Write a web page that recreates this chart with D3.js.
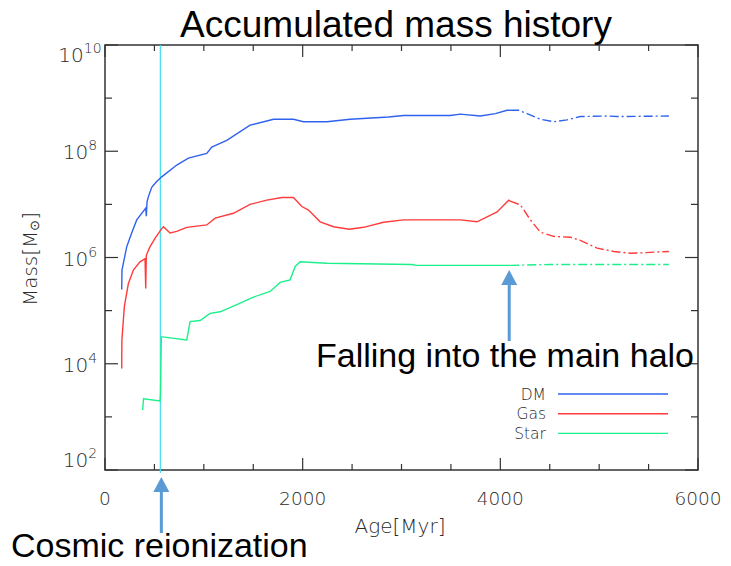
<!DOCTYPE html>
<html>
<head>
<meta charset="utf-8">
<script src="https://cdn.jsdelivr.net/npm/d3@7"></script>
<style>
  body { margin: 0; background: #fff; }
  svg { display: block; }
</style>
</head>
<body>
<div id="chart"></div>
<script>
// Accumulated mass history of a satellite: DM, gas and stars vs age

// [age in Myr, mass in Msun]
const dm = [
  [169, 2.5e5], [172, 5.8e5], [220, 1.6e6], [270, 2.9e6], [321, 5.1e6],
  [412, 8.5e6], [418, 6.0e6], [425, 1.1e7], [439, 1.4e7], [473, 2.1e7],
  [523, 2.7e7], [574, 3.3e7], [726, 5.5e7], [844, 7.4e7], [1030, 9.1e7],
  [1080, 1.2e8], [1232, 1.6e8], [1468, 3.1e8], [1705, 4.0e8], [1907, 4.0e8],
  [2008, 3.6e8], [2245, 3.6e8], [2481, 4.0e8], [2869, 4.4e8], [3021, 4.7e8],
  [3494, 4.7e8], [3595, 5.0e8], [3797, 4.6e8], [3950, 5.1e8], [4068, 5.9e8],
  [4100, 5.9e8], [4186, 5.9e8], [4270, 5.1e8], [4405, 4.0e8], [4540, 3.6e8],
  [4675, 3.9e8], [4810, 4.5e8], [5081, 4.6e8], [5182, 4.5e8], [5705, 4.6e8]
];
const gas = [
  [169, 8.1e3], [171, 2.8e4], [196, 1.2e5], [236, 3.2e5], [287, 5.8e5],
  [354, 8.3e5], [405, 9.5e5], [412, 2.6e5], [418, 1.1e6], [456, 1.6e6],
  [506, 2.3e6], [574, 3.5e6], [591, 3.8e6], [658, 2.9e6], [726, 3.1e6],
  [827, 3.7e6], [1030, 4.1e6], [1114, 5.5e6], [1299, 6.8e6], [1468, 1.0e7],
  [1637, 1.2e7], [1789, 1.35e7], [1907, 1.35e7], [1992, 9.1e6], [2059, 7.8e6],
  [2177, 4.7e6], [2312, 3.8e6], [2470, 3.4e6], [2616, 3.7e6], [2818, 4.6e6],
  [3021, 5.1e6], [3595, 5.1e6], [3764, 4.7e6], [3967, 7.2e6], [4085, 1.2e7],
  [4100, 1.15e7], [4203, 9.8e6], [4304, 5.1e6], [4405, 3.0e6], [4540, 2.5e6],
  [4709, 2.4e6], [4810, 2.1e6], [4979, 1.5e6], [5148, 1.3e6], [5317, 1.2e6],
  [5519, 1.25e6], [5705, 1.3e6]
];
const star = [
  [381, 1.35e3], [390, 2.2e3], [557, 2.0e3], [562, 2.8e3], [566, 1.0e4],
  [570, 3.2e4], [583, 3.2e4], [827, 2.8e4], [861, 6.2e4], [962, 6.5e4],
  [1063, 8.9e4], [1165, 9.5e4], [1334, 1.3e5], [1502, 1.8e5], [1671, 2.3e5],
  [1772, 3.4e5], [1873, 3.8e5], [1924, 6.8e5], [1975, 8.3e5], [2245, 7.8e5],
  [3106, 7.4e5], [3150, 7.1e5], [4068, 7.1e5], [4100, 7.1e5], [4507, 7.4e5],
  [5705, 7.4e5]
];

const seriesNames = ["DM", "Gas", "Star"];
const seriesColors = ["#2f62ee", "#ff3b3b", "#1cf08a"];
const reionAge = 560;     // cosmic reionization
const infallAge = 4100;   // falling into the main halo (dash-dot after)

const xMajor = [0, 2000, 4000, 6000];
const yMajorExp = [2, 4, 6, 8, 10];

const W = 731, H = 566;
const pLeft = 105, pRight = 698, pTop = 45, pBottom = 470;

const svg = d3.select("#chart").append("svg")
  .attr("width", W).attr("height", H);

const x = d3.scaleLinear().domain([0, 6000]).range([pLeft, pRight]);
const y = d3.scaleLog().domain([1e2, 1e10]).range([pBottom, pTop]);

const axisCol = "#333";
const txtCol = "#2a2a2a";
const tickFont = "'DejaVu Sans', sans-serif";
const bigFont = "'Liberation Sans', Arial, sans-serif";

// frame
svg.append("rect")
  .attr("x", pLeft).attr("y", pTop)
  .attr("width", pRight - pLeft).attr("height", pBottom - pTop)
  .attr("fill", "none").attr("stroke", axisCol).attr("stroke-width", 1.5);

// ticks on all four sides
const xTicks = d3.range(0, 6001, 500);
const g = svg.append("g").attr("stroke", axisCol).attr("stroke-width", 1.2);
xTicks.forEach(t => {
  const len = xMajor.includes(t) ? 12 : 6;
  g.append("line").attr("x1", x(t)).attr("x2", x(t)).attr("y1", pBottom).attr("y2", pBottom - len);
  g.append("line").attr("x1", x(t)).attr("x2", x(t)).attr("y1", pTop).attr("y2", pTop + len);
});
d3.range(2, 11).forEach(e => {
  const len = e % 2 === 0 ? 13 : 7;
  const yy = y(Math.pow(10, e));
  g.append("line").attr("x1", pLeft).attr("x2", pLeft + len).attr("y1", yy).attr("y2", yy);
  g.append("line").attr("x1", pRight).attr("x2", pRight - len).attr("y1", yy).attr("y2", yy);
});

// x tick labels
svg.append("g").selectAll("text")
  .data(xMajor)
  .join("text")
    .attr("x", d => x(d))
    .attr("y", 505)
    .attr("text-anchor", "middle")
    .attr("font-family", tickFont)
    .attr("font-weight", 200)
    .attr("font-size", 18.5)
    .attr("fill", txtCol)
    .text(d => d);

// y tick labels, 10^n  (the end ones sit inside the frame)
const yl = svg.append("g").selectAll("text")
  .data(yMajorExp)
  .join("text")
    .attr("x", 80)
    .attr("y", d => y(Math.pow(10, d)) + (d === 10 ? 17 : d === 2 ? -3 : 8))
    .attr("text-anchor", "middle")
    .attr("font-family", tickFont)
    .attr("font-weight", 200)
    .attr("font-size", 20)
    .attr("fill", txtCol);
yl.append("tspan").text("10");
yl.append("tspan").attr("dy", -9).attr("font-size", 14).text(d => d);

// axis titles
svg.append("text")
  .attr("x", 400).attr("y", 533)
  .attr("text-anchor", "middle")
  .attr("font-family", tickFont).attr("font-weight", 200)
  .attr("font-size", 20).attr("fill", txtCol)
  .text("Age[Myr]");

const yt = svg.append("text")
  .attr("transform", "translate(37,259) rotate(-90)")
  .attr("text-anchor", "middle")
  .attr("font-family", tickFont).attr("font-weight", 200)
  .attr("font-size", 20).attr("fill", txtCol);
yt.append("tspan").text("Mass[M");
yt.append("tspan").attr("font-size", 13).attr("dy", 2).text("⊙");
yt.append("tspan").attr("dy", -2).text("]");

// reionization line
svg.append("line")
  .attr("x1", x(reionAge)).attr("x2", x(reionAge))
  .attr("y1", pTop).attr("y2", pBottom + 3)
  .attr("stroke", "#3fe0f0").attr("stroke-width", 1.2);

// curves: solid before infall, dash-dot after
const line = d3.line().x(d => x(d[0])).y(d => y(d[1]));
[dm, gas, star].forEach((s, i) => {
  svg.append("path")
    .datum(s.filter(d => d[0] <= infallAge))
    .attr("d", line)
    .attr("fill", "none")
    .attr("stroke", seriesColors[i])
    .attr("stroke-width", 1.4);
  svg.append("path")
    .datum(s.filter(d => d[0] >= infallAge))
    .attr("d", line)
    .attr("fill", "none")
    .attr("stroke", seriesColors[i])
    .attr("stroke-width", 1.4)
    .attr("stroke-dasharray", "9,3,2,3");
});

// legend
const leg = svg.append("g").selectAll("g")
  .data(seriesNames)
  .join("g")
    .attr("transform", (d, i) => "translate(0," + (394 + i * 19.7) + ")");
leg.append("text")
  .attr("x", 546).attr("y", 5.5)
  .attr("text-anchor", "end")
  .attr("font-family", tickFont).attr("font-weight", 200)
  .attr("font-size", 15.5).attr("fill", txtCol)
  .text(d => d);
leg.append("line")
  .attr("x1", 558).attr("x2", 668)
  .attr("stroke", (d, i) => seriesColors[i])
  .attr("stroke-width", 1.4);

// title
svg.append("text")
  .attr("x", 396).attr("y", 37)
  .attr("text-anchor", "middle")
  .attr("font-family", bigFont)
  .attr("font-size", 37)
  .text("Accumulated mass history");

// arrows
const arrowCol = "#5b9bd5";
function arrow(ax, tipY, endY) {
  svg.append("rect")
    .attr("x", ax - 1.5).attr("y", tipY + 12)
    .attr("width", 3).attr("height", endY - tipY - 12)
    .attr("fill", arrowCol);
  svg.append("path")
    .attr("d", "M" + ax + "," + tipY + "L" + (ax + 8) + "," + (tipY + 15) + "L" + (ax - 8) + "," + (tipY + 15) + "Z")
    .attr("fill", arrowCol);
}
arrow(x(reionAge) + 1, 477, 533);
arrow(x(infallAge) - 1, 270, 341);

svg.append("text")
  .attr("x", 316).attr("y", 367)
  .attr("font-family", bigFont)
  .attr("font-size", 34)
  .text("Falling into the main halo");

svg.append("text")
  .attr("x", 11).attr("y", 557)
  .attr("font-family", bigFont)
  .attr("font-size", 34)
  .text("Cosmic reionization");
</script>
</body>
</html>
